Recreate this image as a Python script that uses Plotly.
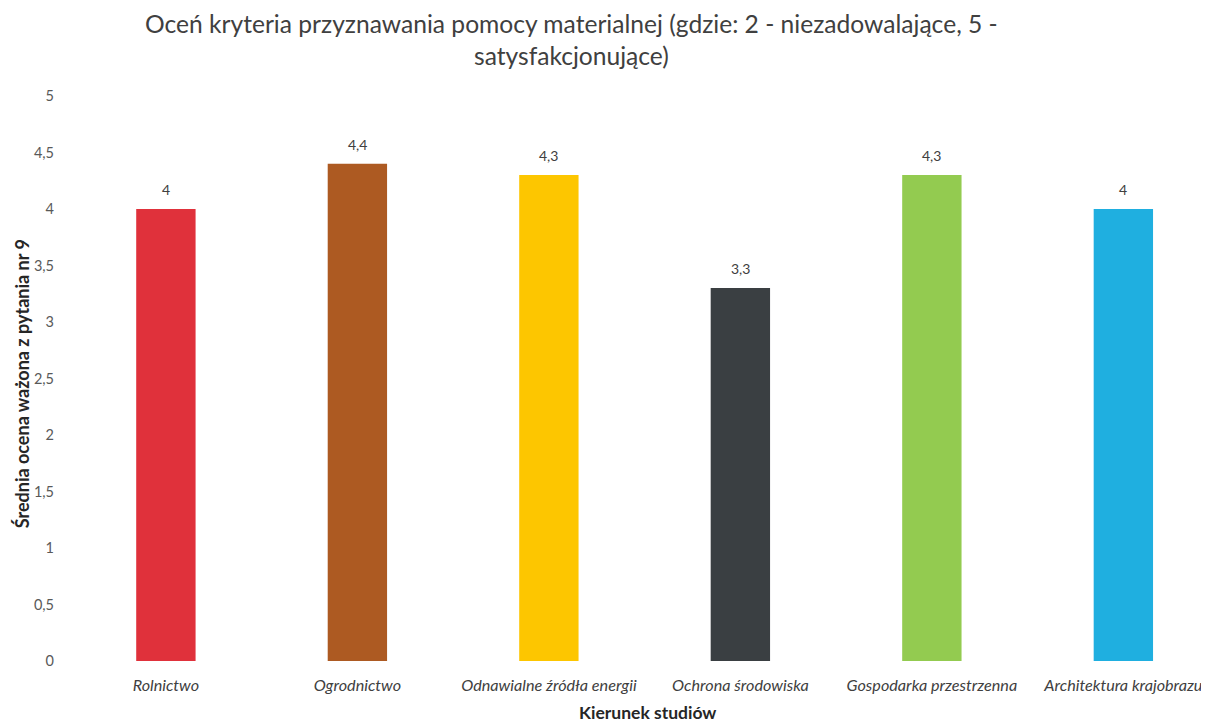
import plotly.graph_objects as go

categories = ["Rolnictwo", "Ogrodnictwo", "Odnawialne źródła energii",
              "Ochrona środowiska", "Gospodarka przestrzenna", "Architektura krajobrazu"]
values = [4, 4.4, 4.3, 3.3, 4.3, 4]
colors = ["#e0313b", "#ad5a22", "#fdc600", "#3a3f42", "#93cb50", "#1fafe0"]
labels = [("%g" % v).replace(".", ",") for v in values]
yticks = [0, 0.5, 1, 1.5, 2, 2.5, 3, 3.5, 4, 4.5, 5]
yticktext = [("%g" % v).replace(".", ",") for v in yticks]

FONT = "Lato, Open Sans, sans-serif"

fig = go.Figure(go.Bar(
    x=categories, y=values,
    marker=dict(color=colors, line=dict(width=0)),
    width=0.31,
    hoverinfo="x+y",
))

for c, v, t in zip(categories, values, labels):
    fig.add_annotation(x=c, y=v, text=t, showarrow=False, yanchor="bottom",
                       yshift=9, font=dict(family=FONT, size=14, color="#404040"))

fig.add_annotation(
    text="Oceń kryteria przyznawania pomocy materialnej (gdzie: 2 - niezadowalające, 5 -",
    xref="paper", yref="paper", x=0.4425, y=1.128, xanchor="center", yanchor="middle",
    showarrow=False, font=dict(family=FONT, size=24.6, color="#404040"),
)
fig.add_annotation(
    text="satysfakcjonujące)",
    xref="paper", yref="paper", x=0.4425, y=1.071, xanchor="center", yanchor="middle",
    showarrow=False, font=dict(family=FONT, size=24.6, color="#404040"),
)
fig.add_annotation(
    text="<b>Średnia ocena ważona z pytania nr 9</b>", textangle=-90,
    xref="paper", yref="paper", x=-0.0328, y=0.49, xanchor="center", yanchor="middle",
    showarrow=False, font=dict(family=FONT, size=18, color="#262626"),
)
fig.add_annotation(
    text="<b>Kierunek studiów</b>",
    xref="paper", yref="paper", x=0.508, y=-0.092, xanchor="center", yanchor="middle",
    showarrow=False, font=dict(family=FONT, size=17.5, color="#262626"),
)

fig.update_layout(
    width=1209, height=724,
    paper_bgcolor="white", plot_bgcolor="white",
    margin=dict(l=52, r=0, t=88, b=71, autoexpand=False),
    showlegend=False,
    xaxis=dict(
        range=[-0.553, 5.489], automargin=False,
        showgrid=False, showline=False, ticks="",
        ticklabelstandoff=13,
        tickfont=dict(family=FONT, size=16.2, color="#404040", style="italic"),
    ),
    yaxis=dict(
        range=[0, 5], tickvals=yticks, ticktext=yticktext, automargin=False,
        showgrid=False, zeroline=False, showline=False, ticks="",
        ticklabelstandoff=5,
        tickfont=dict(family=FONT, size=14.5, color="#595959"),
    ),
)

fig.write_html("out.html")
